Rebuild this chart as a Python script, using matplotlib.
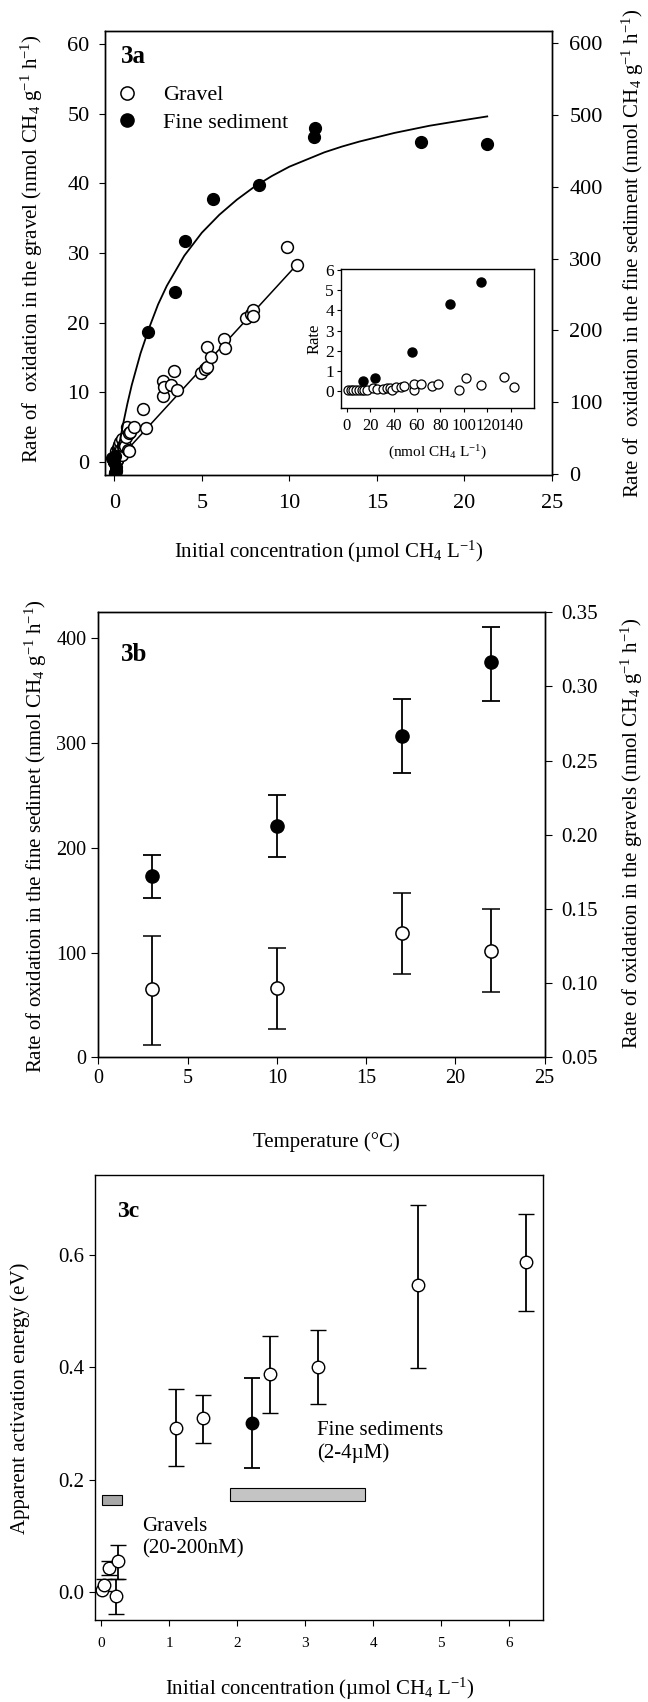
import matplotlib
matplotlib.use("Agg")
import matplotlib.pyplot as plt
from matplotlib.lines import Line2D
import numpy as np

plt.rcParams['font.family'] = ['Liberation Serif', 'DejaVu Serif']
plt.rcParams['mathtext.fontset'] = 'custom'
plt.rcParams['mathtext.rm'] = 'Liberation Serif'
plt.rcParams['mathtext.it'] = 'Liberation Serif:italic'
plt.rcParams['mathtext.bf'] = 'Liberation Serif:bold'
plt.rcParams['axes.linewidth'] = 1.0

# ---- panel 3a: kinetics (main plot, umol/L) ----
# gravel, left axis
grav_x = [0.08, 0.10, 0.12, 0.18, 0.22, 0.23, 0.25, 0.29, 0.30, 0.35, 0.40, 0.42, 0.45, 0.50,
          0.55, 0.60, 0.65, 0.70, 0.80, 0.82, 0.86, 0.90, 1.14, 1.62, 1.81, 2.76, 2.80, 2.84,
          3.22, 3.41, 3.60, 4.93, 5.18, 5.28, 5.28, 5.50, 6.27, 6.34, 7.50, 7.79, 7.94, 7.94,
          9.89, 10.42]
grav_y = [0.8, 0.5, 1.5, 0.3, 2.0, 1.4, 2.4, 2.4, 1.2, 2.8, 1.8, 1.0, 3.3, 2.2,
          2.6, 2.2, 3.6, 5.0, 1.7, 1.6, 4.2, 4.3, 5.0, 7.6, 4.9, 11.6, 9.4, 10.8,
          11.0, 13.0, 10.3, 12.7, 13.4, 16.5, 13.6, 15.1, 17.6, 16.4, 20.7, 21.3, 21.8, 20.9,
          30.9, 28.3]
grav_fit_x = [0.0, 10.42]
grav_fit_y = [-0.3, 28.3]

# fine sediment, right axis
fine_x = [-0.15, 0.0, 0.05, 0.10, 1.94, 3.47, 4.04, 5.62, 8.27, 11.43, 11.47, 17.5, 21.3]
fine_y = [22, 16, 25, 10, 198, 253, 325, 383, 403, 469, 482, 462, 459]
fine_fit_x = [0, 0.1, 0.25, 0.5, 0.75, 1.0, 1.5, 2.0, 2.5, 3.0, 4.0, 5.0, 6.0, 7.0, 8.0, 9.0,
              10, 11, 12, 13, 14, 15, 16, 17, 18, 19, 20, 21.3]
fine_fit_y = [0, 15, 37, 69, 98, 124, 168, 204, 236, 262, 304, 336, 361, 382, 400, 415,
              428, 438, 448, 456, 463, 469, 475, 480, 485, 489, 493, 498]

# inset (nmol/L)
in_grav_x = [1.4, 3.4, 5.7, 8.0, 10.5, 12.8, 15.1, 17.6, 22.2, 25.6, 31.3, 34.1, 36.9, 38.9,
             42.0, 46.0, 49.1, 57.7, 57.4, 63.4, 72.7, 78.1, 95.7, 101.4, 114.8, 134.1, 142.9]
in_grav_y = [0.05, 0.05, 0.06, 0.08, 0.08, 0.08, 0.07, 0.07, 0.15, 0.10, 0.10, 0.18, 0.18, 0.07,
             0.23, 0.23, 0.28, 0.08, 0.35, 0.35, 0.28, 0.37, 0.08, 0.65, 0.32, 0.70, 0.20]
in_fine_x = [14.2, 24.4, 55.7, 88.1, 114.2]
in_fine_y = [0.50, 0.66, 1.94, 4.34, 5.42]

# ---- panel 3b: temperature ----
temp = [3, 10, 17, 22]
fine_rate = [173, 221, 307, 377]
fine_lo = [152, 191, 271, 340]
fine_hi = [193, 250, 342, 411]
grav_rate = [0.096, 0.097, 0.134, 0.122]
grav_lo = [0.058, 0.069, 0.106, 0.094]
grav_hi = [0.132, 0.124, 0.161, 0.150]

# ---- panel 3c: activation energy ----
ea_open_x = [0.045, 0.12, 0.245, 0.22, 1.10, 1.49, 2.48, 3.19, 4.66, 6.24]
ea_open_y = [0.013, 0.043, 0.055, -0.006, 0.293, 0.310, 0.388, 0.400, 0.546, 0.587]
ea_open_lo = [0.003, 0.030, 0.024, -0.038, 0.224, 0.265, 0.318, 0.334, 0.399, 0.500]
ea_open_hi = [0.023, 0.056, 0.084, 0.024, 0.361, 0.351, 0.455, 0.466, 0.689, 0.673]
ea_zero_x = [0.015]
ea_zero_y = [0.004]
ea_fill_x = [2.22]
ea_fill_y = [0.301]
ea_fill_lo = [0.221]
ea_fill_hi = [0.381]
range_x0 = [0.01, 1.90]
range_x1 = [0.30, 3.88]
range_y0 = [0.156, 0.163]
range_y1 = [0.173, 0.186]
range_col = ['#a8a8a8', '#c4c4c4']

W, H = 648, 1702
fig = plt.figure(figsize=(W / 100, H / 100), dpi=100)


def box(l, t, r, b):
    return [l / W, 1 - b / H, (r - l) / W, (b - t) / H]


# ================= 3a =================
ax = fig.add_axes(box(105, 31, 552, 475))
ax.plot(grav_fit_x, grav_fit_y, color='black', lw=1.1, zorder=2)
ax.plot(np.array(in_grav_x) / 1000, in_grav_y, 'o', mfc='white', mec='black', ms=8.5, mew=1.1, zorder=3)
ax.plot(grav_x, grav_y, 'o', mfc='white', mec='black', ms=8.5, mew=1.1, zorder=3)
ax.set_xlim(-0.53, 25)
ax.set_ylim(-1.9, 61.9)
ax.set_xticks([0, 5, 10, 15, 20, 25])
ax.set_yticks([0, 10, 20, 30, 40, 50, 60])
ax.tick_params(labelsize=16, length=4, direction='out')
ax.tick_params(axis='x', pad=10)
ax.tick_params(axis='y', pad=7)
ax.set_xlabel('Initial concentration (µmol CH$_4$ L$^{-1}$)', fontsize=15, va='center')
ax.xaxis.set_label_coords(0.5, -0.173)
ax.set_ylabel('Rate of  oxidation in the gravel (nmol CH$_4$ g$^{-1}$ h$^{-1}$)', fontsize=15, va='center')
ax.yaxis.set_label_coords(-0.163, 0.51)

ax2 = ax.twinx()
ax2.plot(fine_fit_x, fine_fit_y, color='black', lw=1.3, zorder=2)
ax2.plot(np.array(in_fine_x) / 1000, in_fine_y, 'o', color='black', ms=8.5, zorder=3)
ax2.plot(fine_x, fine_y, 'o', color='black', ms=8.5, zorder=3)
ax2.set_ylim(-1.5, 617)
ax2.set_yticks([0, 100, 200, 300, 400, 500, 600])
ax2.tick_params(labelsize=16, length=4.5, pad=8)
ax2.set_ylabel('Rate of  oxidation in the fine sediment (nmol CH$_4$ g$^{-1}$ h$^{-1}$)',
               fontsize=15, va='center', rotation=90)
ax2.yaxis.set_label_coords(1.181, 0.5)

ax.text(0.035, 0.943, '3a', transform=ax.transAxes, fontsize=18, fontweight='bold', va='center')
handles = [Line2D([], [], ls='none', marker='o', mfc='white', mec='black', ms=9.5, mew=1.1),
           Line2D([], [], ls='none', marker='o', color='black', ms=9.5)]
ax.legend(handles, ['Gravel', 'Fine sediment'], loc='upper left', bbox_to_anchor=(0.005, 0.899),
          frameon=False, fontsize=16, handlelength=1.0, handletextpad=1.1, labelspacing=0.3,
          borderaxespad=0.0)

# inset
axi = fig.add_axes(box(341, 269, 534, 408))
axi.set_zorder(5)
axi.plot(in_grav_x, in_grav_y, 'o', mfc='white', mec='black', ms=6.5, mew=0.9)
axi.plot(in_fine_x, in_fine_y, 'o', color='black', ms=6.5)
axi.set_xlim(-4.8, 159.7)
axi.set_ylim(-0.83, 6.05)
axi.set_xticks([0, 20, 40, 60, 80, 100, 120, 140])
axi.set_yticks([0, 1, 2, 3, 4, 5, 6])
axi.tick_params(axis='y', labelsize=12.5, length=3, pad=2)
axi.tick_params(axis='x', labelsize=12, length=3, pad=4)
axi.set_ylabel('Rate', fontsize=12, labelpad=2)
axi.set_xlabel('(nmol CH$_4$ L$^{-1}$)', fontsize=11, labelpad=7)

# ================= 3b =================
axb = fig.add_axes(box(98.3, 612.3, 544.6, 1057.3))
axb.errorbar(temp, fine_rate,
             yerr=[np.subtract(fine_rate, fine_lo), np.subtract(fine_hi, fine_rate)],
             fmt='o', color='black', ms=9.5, capsize=6.5, elinewidth=1.3, capthick=1.3)
axb.set_xlim(0, 25)
axb.set_ylim(0, 424.8)
axb.set_xticks([0, 5, 10, 15, 20, 25])
axb.set_yticks([0, 100, 200, 300, 400])
axb.tick_params(labelsize=14.5, length=5)
axb.set_xlabel('Temperature (°C)', fontsize=15, va='center')
axb.xaxis.set_label_coords(0.51, -0.19)
axb.set_ylabel('Rate of oxidation in the fine sedimet (nmol CH$_4$ g$^{-1}$ h$^{-1}$)', fontsize=15, va='center')
axb.yaxis.set_label_coords(-0.14, 0.497)
axb.text(0.05, 0.905, '3b', transform=axb.transAxes, fontsize=18, fontweight='bold', va='center')

axb2 = axb.twinx()
axb2.errorbar(temp, grav_rate,
              yerr=[np.subtract(grav_rate, grav_lo), np.subtract(grav_hi, grav_rate)],
              fmt='o', color='black', mfc='white', mec='black', ms=9.5, mew=1.1,
              capsize=6.5, elinewidth=1.3, capthick=1.3)
axb2.set_ylim(0.05, 0.35)
axb2.set_yticks([0.05, 0.10, 0.15, 0.20, 0.25, 0.30, 0.35])
axb2.set_yticklabels(['%.2f' % v for v in [0.05, 0.10, 0.15, 0.20, 0.25, 0.30, 0.35]])
axb2.tick_params(labelsize=15, length=5, pad=7)
axb2.set_ylabel('Rate of oxidation in the gravels (nmol CH$_4$ g$^{-1}$ h$^{-1}$)', fontsize=15,
                va='center', rotation=90)
axb2.yaxis.set_label_coords(1.196, 0.503)

# ================= 3c =================
axc = fig.add_axes(box(95, 1175, 543.4, 1620.4))
axc.barh([(a + b) / 2 for a, b in zip(range_y0, range_y1)],
         [b - a for a, b in zip(range_x0, range_x1)],
         height=[b - a for a, b in zip(range_y0, range_y1)],
         left=range_x0, color=range_col, edgecolor='black', linewidth=0.8, zorder=1)
axc.errorbar(ea_open_x, ea_open_y,
             yerr=[np.subtract(ea_open_y, ea_open_lo), np.subtract(ea_open_hi, ea_open_y)],
             fmt='o', color='black', mfc='white', mec='black', ms=9, mew=1.0,
             capsize=6, elinewidth=1.3, capthick=1.3, zorder=3)
axc.plot(ea_zero_x, ea_zero_y, 'o', mfc='white', mec='black', ms=9, mew=1.0, zorder=3)
axc.errorbar(ea_fill_x, ea_fill_y,
             yerr=[np.subtract(ea_fill_y, ea_fill_lo), np.subtract(ea_fill_hi, ea_fill_y)],
             fmt='o', color='black', ms=9, capsize=6, elinewidth=1.3, capthick=1.3, zorder=3)
axc.set_xlim(-0.09, 6.5)
axc.set_ylim(-0.05, 0.742)
axc.set_xticks([0, 1, 2, 3, 4, 5, 6])
axc.set_yticks([0.0, 0.2, 0.4, 0.6])
axc.set_yticklabels(['0.0', '0.2', '0.4', '0.6'])
axc.tick_params(axis='y', labelsize=15, length=4)
axc.tick_params(axis='x', labelsize=11, length=4, pad=8)
axc.set_xlabel('Initial concentration (µmol CH$_4$ L$^{-1}$)', fontsize=15, va='center')
axc.xaxis.set_label_coords(0.502, -0.154)
axc.set_ylabel('Apparent activation energy (eV)', fontsize=15, va='center')
axc.yaxis.set_label_coords(-0.166, 0.499)
axc.text(0.05, 0.918, '3c', transform=axc.transAxes, fontsize=17, fontweight='bold', va='center')
axc.text(3.17, 0.305, 'Fine sediments\n(2-4µM)', fontsize=15, va='top', ha='left', linespacing=1.25)
axc.text(0.60, 0.134, 'Gravels\n(20-200nM)', fontsize=15, va='top', ha='left', linespacing=1.25)

fig.savefig('out.png', dpi=100)
